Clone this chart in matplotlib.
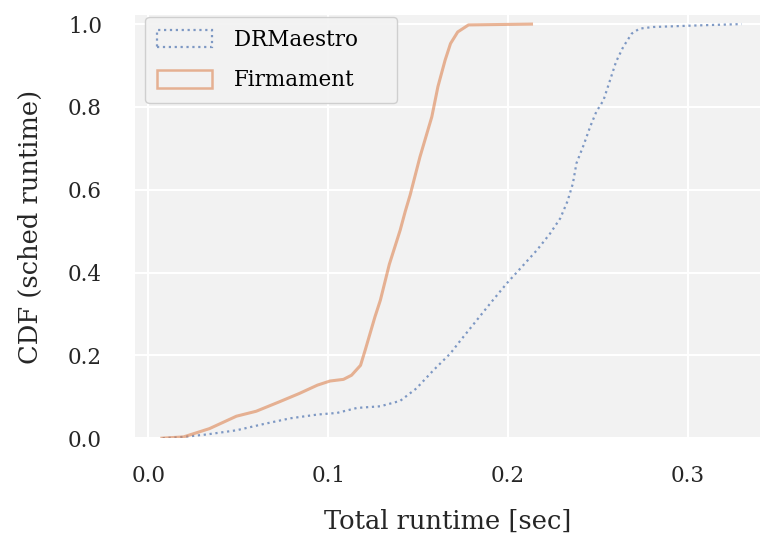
import matplotlib
matplotlib.use("Agg")
import matplotlib.pyplot as plt
from matplotlib.patches import Patch

# CDF breakpoints (runtime in sec, cumulative fraction)
drm_x = [0.008, 0.0196, 0.0326, 0.049, 0.064, 0.079, 0.094, 0.105, 0.116, 0.129,
         0.140, 0.149, 0.1585, 0.168, 0.173, 0.1826, 0.190, 0.1993, 0.2085, 0.216,
         0.2233, 0.229, 0.2330, 0.236, 0.238, 0.242, 0.2456, 0.249, 0.253, 0.2567,
         0.260, 0.264, 0.2687, 0.273, 0.2806, 0.3067, 0.3298]
drm_y = [0.0, 0.003, 0.009, 0.019, 0.034, 0.048, 0.057, 0.061, 0.073, 0.077,
         0.090, 0.120, 0.164, 0.205, 0.233, 0.285, 0.325, 0.374, 0.418, 0.454,
         0.494, 0.531, 0.572, 0.615, 0.664, 0.708, 0.752, 0.788, 0.816, 0.865,
         0.909, 0.945, 0.977, 0.989, 0.993, 0.997, 1.0]

firm_x = [0.0076, 0.0196, 0.034, 0.049, 0.060, 0.073, 0.084, 0.094, 0.101, 0.1085,
          0.113, 0.118, 0.1206, 0.1233, 0.126, 0.129, 0.134, 0.140, 0.1428, 0.1456,
          0.151, 0.1576, 0.161, 0.165, 0.168, 0.172, 0.178, 0.213]
firm_y = [0.0, 0.003, 0.023, 0.053, 0.065, 0.088, 0.108, 0.128, 0.138, 0.142,
          0.152, 0.176, 0.213, 0.253, 0.293, 0.333, 0.420, 0.502, 0.547, 0.588,
          0.679, 0.776, 0.849, 0.913, 0.953, 0.981, 0.998, 1.0]

labels = ["DRMaestro", "Firmament"]

blue = "#4c72b0"
orange = "#dd8452"
text_col = "#262626"

plt.rcParams["font.family"] = ["DejaVu Serif"]

fig = plt.figure(figsize=(7.6, 5.35), dpi=100)
ax = fig.add_axes([0.178, 0.181, 0.822, 0.791])
ax.set_facecolor("#f2f2f2")
ax.grid(True, color="white", linewidth=1.5)
ax.set_axisbelow(True)
for s in ax.spines.values():
    s.set_visible(False)

ax.plot(drm_x, drm_y, color=blue, alpha=0.7, linestyle=":", linewidth=1.6)
ax.plot(firm_x, firm_y, color=orange, alpha=0.6, linewidth=2.2)

ax.set_xlim(-0.0072, 0.340)
ax.set_ylim(0, 1.022)
ax.set_xticks([0.0, 0.1, 0.2, 0.3])
ax.set_yticks([0.0, 0.2, 0.4, 0.6, 0.8, 1.0])
ax.tick_params(length=0, labelsize=15.5, colors=text_col)
ax.tick_params(axis="x", pad=19)
ax.tick_params(axis="y", pad=24)
ax.set_xlabel("Total runtime [sec]", fontsize=18.5, color=text_col, labelpad=16)
ax.set_ylabel("CDF (sched runtime)", fontsize=18.5, color=text_col, labelpad=18)

handles = [Patch(facecolor="none", edgecolor=blue, alpha=0.7, linestyle=":", linewidth=1.6),
           Patch(facecolor="none", edgecolor=orange, alpha=0.6, linewidth=1.8)]
# trailing spaces widen the legend box like in the original
leg = ax.legend(handles, [labels[0] + "    ", labels[1]], loc="upper left", fontsize=15.5,
                frameon=True, facecolor="#f2f2f2", edgecolor="#cccccc", framealpha=0.9,
                handlelength=2.55, handleheight=0.9, borderpad=0.55, labelspacing=0.85,
                handletextpad=1.0, borderaxespad=0, bbox_to_anchor=(0.016, 0.995))

fig.savefig("out.png", dpi=100)
